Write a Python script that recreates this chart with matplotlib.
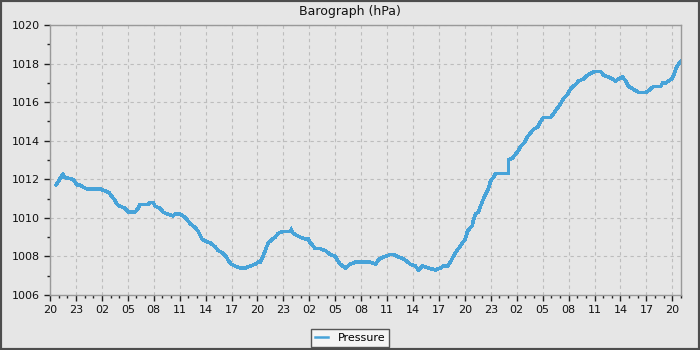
import matplotlib
matplotlib.use("Agg")
import matplotlib.pyplot as plt
from matplotlib.patches import Rectangle
from matplotlib.ticker import MultipleLocator

# hours since 20:00 on the first day
hours = [0.69, 1.54, 1.62, 2.66, 3.13, 3.47, 3.82, 4.28, 5.79, 6.37, 6.83, 7.18, 7.53,
         7.76, 8.11, 8.69, 9.03, 9.84, 10.19, 10.42, 11.0, 11.35, 11.58, 11.93, 12.16,
         12.74, 13.09, 13.55, 14.24, 14.48, 15.06, 15.4, 15.87, 16.21, 16.79, 17.14,
         17.6, 17.95, 18.53, 19.11, 19.46, 19.92, 20.38, 20.61, 20.96, 21.42, 22.0,
         22.58, 23.16, 23.74, 24.09, 24.32, 24.55, 24.9, 25.25, 25.71, 26.06, 26.4,
         26.98, 27.45, 27.79, 27.91, 28.14, 28.49, 28.95, 29.53, 29.88, 30.11, 30.34,
         30.69, 31.27, 31.85, 32.43, 33.01, 33.24, 33.58, 34.16, 34.74, 35.32, 35.9,
         37.06, 37.64, 37.98, 38.22, 38.8, 39.37, 39.72, 40.19, 40.76, 41.11, 41.69,
         42.27, 42.62, 43.08, 43.77, 44.59, 45.16, 45.51, 45.98, 46.32, 46.55, 46.9,
         47.25, 47.71, 48.06, 48.29, 48.64, 48.87, 48.99, 49.22, 49.57, 49.8, 50.26,
         50.72, 50.96, 51.3, 51.53, 53.04, 53.05, 53.5, 53.85, 54.2, 54.43, 54.89,
         55.24, 55.59, 55.94, 56.4, 56.75, 57.09, 57.9, 58.25, 58.72, 59.06, 59.41,
         59.87, 60.1, 60.45, 60.8, 61.15, 61.72, 62.19, 62.54, 63.12, 63.69, 64.04,
         64.62, 65.08, 65.43, 65.78, 66.24, 66.59, 66.94, 67.4, 67.75, 68.11, 68.92,
         69.26, 69.49, 69.83, 70.64, 70.88, 71.22, 71.56, 71.92, 72.15, 72.38, 72.61,
         72.96]
pressure = [1011.7, 1012.3, 1012.1, 1012.0, 1011.7, 1011.7, 1011.6, 1011.5, 1011.5,
            1011.4, 1011.3, 1011.1, 1010.9, 1010.7, 1010.6, 1010.5, 1010.3, 1010.3,
            1010.5, 1010.7, 1010.7, 1010.7, 1010.8, 1010.8, 1010.6, 1010.5, 1010.3,
            1010.2, 1010.1, 1010.2, 1010.2, 1010.1, 1009.9, 1009.7, 1009.5, 1009.3,
            1008.9, 1008.8, 1008.7, 1008.5, 1008.3, 1008.2, 1008.0, 1007.8, 1007.6,
            1007.5, 1007.4, 1007.4, 1007.5, 1007.6, 1007.7, 1007.7, 1007.9, 1008.3,
            1008.7, 1008.9, 1009.0, 1009.2, 1009.3, 1009.3, 1009.3, 1009.4, 1009.2,
            1009.1, 1009.0, 1008.9, 1008.9, 1008.7, 1008.6, 1008.4, 1008.4, 1008.3,
            1008.1, 1008.0, 1007.8, 1007.6, 1007.4, 1007.6, 1007.7, 1007.7, 1007.7,
            1007.6, 1007.8, 1007.9, 1008.0, 1008.1, 1008.1, 1008.0, 1007.9, 1007.8,
            1007.6, 1007.5, 1007.3, 1007.5, 1007.4, 1007.3, 1007.4, 1007.5, 1007.5,
            1007.7, 1007.9, 1008.2, 1008.4, 1008.7, 1008.9, 1009.3, 1009.5, 1009.6,
            1009.9, 1010.2, 1010.3, 1010.6, 1011.1, 1011.5, 1011.9, 1012.1, 1012.3,
            1012.3, 1013.0, 1013.1, 1013.3, 1013.5, 1013.7, 1013.9, 1014.2, 1014.4,
            1014.6, 1014.7, 1015.0, 1015.2, 1015.2, 1015.4, 1015.7, 1015.9, 1016.2,
            1016.4, 1016.6, 1016.8, 1016.9, 1017.1, 1017.2, 1017.4, 1017.5, 1017.6,
            1017.6, 1017.4, 1017.3, 1017.2, 1017.1, 1017.2, 1017.3, 1017.1, 1016.8,
            1016.7, 1016.6, 1016.5, 1016.5, 1016.6, 1016.7, 1016.8, 1016.8, 1017.0,
            1017.0, 1017.1, 1017.2, 1017.4, 1017.7, 1017.9, 1018.1]
tick_hours = list(range(0, 73, 3))
tick_labels = ["20", "23", "02", "05", "08", "11", "14", "17"] * 3 + ["20"]

BG = "#e6e6e6"
LINE = "#47a3d9"

fig = plt.figure(figsize=(7, 3.5), dpi=100, facecolor=BG)
ax = fig.add_axes([50 / 700, 1 - 295 / 350, 631 / 700, 270 / 350])
ax.set_facecolor(BG)

ax.plot(hours, pressure, color=LINE, lw=1.8, label="Pressure",
        solid_joinstyle="miter", antialiased=False)

ax.set_xlim(0, 73)
ax.set_ylim(1006, 1020)
ax.set_xticks(tick_hours)
ax.set_xticklabels(tick_labels)
ax.xaxis.set_minor_locator(MultipleLocator(1))
ax.yaxis.set_major_locator(MultipleLocator(2))
ax.yaxis.set_minor_locator(MultipleLocator(1))

ax.grid(True, which="major", color="#bdbdbd", linestyle=(0, (3, 3)), linewidth=0.8)
ax.set_axisbelow(True)
for s in ax.spines.values():
    s.set_color("#999999")
    s.set_linewidth(1)

ax.tick_params(axis="both", which="major", length=4, width=1, color="#222222",
               labelsize=8, pad=3, labelcolor="#111111")
ax.tick_params(axis="both", which="minor", length=2.5, width=1, color="#222222")

fig.text(0.5, 1 - 12 / 350, "Barograph (hPa)", ha="center", va="center",
         fontsize=9, color="#111111")

leg = fig.legend(loc="lower center", bbox_to_anchor=(0.5, -0.006), frameon=True,
                 fontsize=8, handlelength=1.2, handletextpad=0.9,
                 borderpad=0.35, fancybox=False)
leg.get_frame().set_facecolor("#f4f4f4")
leg.get_frame().set_edgecolor("#555555")
leg.get_frame().set_linewidth(1)
leg.get_frame().set_alpha(1)

fig.patches.append(Rectangle((0, 0), 1, 1, transform=fig.transFigure, fill=False,
                             edgecolor="#4d4d4d", linewidth=3, zorder=10))

fig.savefig("out.png", dpi=100, facecolor=BG)
